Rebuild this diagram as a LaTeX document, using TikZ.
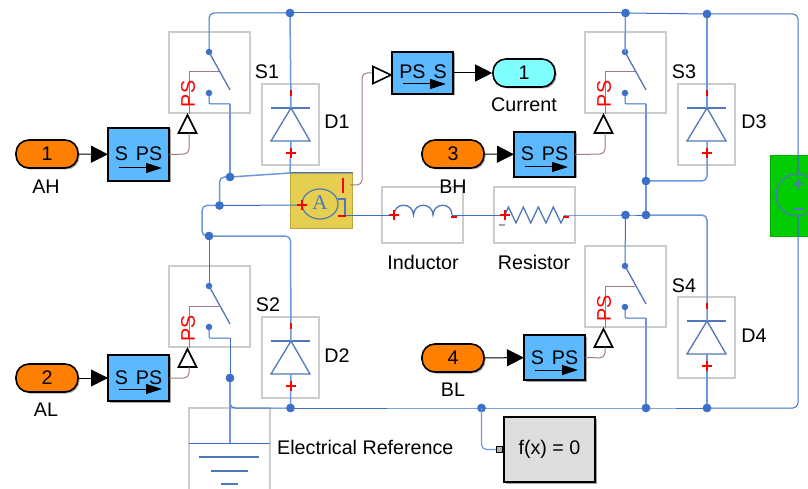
\documentclass[tikz,border=0pt]{standalone}
\usepackage{fontspec}
\setmainfont{Liberation Sans}
\usetikzlibrary{arrows.meta,shadows}
\definecolor{wireblue}{HTML}{3B6FC9}
\definecolor{wirelight}{HTML}{6E97DC}
\definecolor{symblue}{HTML}{4F78B8}
\definecolor{sigbrown}{HTML}{A07A80}
\definecolor{boxgray}{HTML}{CCCCCC}
\definecolor{psblue}{HTML}{5CB8FF}
\definecolor{portorange}{HTML}{FF8000}
\definecolor{portcyan}{HTML}{80FFFF}
\definecolor{ampyellow}{HTML}{E6CF50}
\definecolor{srcgreen}{HTML}{00CC00}
\newcommand{\lab}{\fontsize{19.7}{20}\selectfont}
\tikzset{
  wire/.style={draw=wireblue,line width=1pt,rounded corners=5pt},
  wirel/.style={draw=wirelight,line width=1.5pt,rounded corners=5pt},
  sigline/.style={draw=sigbrown,line width=1pt,rounded corners=5pt},
  symb/.style={draw=symblue,line width=1.3pt},
  graybox/.style={draw=boxgray,line width=1.1pt,fill=white,inner sep=0,outer sep=0,anchor=north west},
  smalldot/.style={circle,fill=wireblue,inner sep=0,minimum size=6.5pt},
  junc/.style={circle,fill=wireblue,inner sep=0,minimum size=8.5pt},
  psblock/.style={draw=black,line width=2pt,fill=psblue,inner sep=0,outer sep=0,anchor=north west,
     drop shadow={shadow xshift=1.5pt,shadow yshift=-1.5pt,opacity=.35,fill=black}},
  port/.style={draw=black,line width=1.6pt,rounded corners=13pt,inner sep=0,minimum width=62pt,minimum height=28pt,
     font=\lab,drop shadow={shadow xshift=1.5pt,shadow yshift=-1.5pt,opacity=.35,fill=black}},
  txt/.style={inner sep=0,font=\lab,text=black},
  redmark/.style={draw=red,line width=2pt},
  redtxt/.style={inner sep=0,text=red,font=\lab,rotate=90},
  feed/.style={draw=black,line width=1pt,-{Triangle[length=17pt,width=17pt]}},
  innerarrow/.style={draw=black,line width=1pt,-{Triangle[length=16pt,width=10pt]}},
  opentri/.style={draw=black,line width=1.6pt,fill=white,line join=miter},
}
\newcommand{\switchblock}[3]{% name, x, y
  \begin{scope}[shift={(#2,#3)}]
    \node[graybox,minimum width=81pt,minimum height=81pt] (#1) at (0,0) {};
    \node[smalldot] (#1t) at (40,20) {};
    \node[smalldot] (#1b) at (40,61) {};
    \coordinate (#1e) at (61,58);
    \coordinate (#1k) at (50,40);
    \coordinate (#1o) at (61,72);
    \draw[symb] (#1t.center) -- (#1e);
    \draw[wire,rounded corners=1pt] (#1b.center) -- (40,72) -- (#1o);
    \coordinate (#1a) at (20,82);
    \draw[sigline,rounded corners=0pt] (#1a) -- (20,40) -- (#1k);
    \node[redtxt] at (19,62) {PS};
    \draw[opentri] (18.5,83) -- (9.5,101) -- (27.5,101) -- cycle;
    \coordinate (#1i) at (20,101);
  \end{scope}}
\newcommand{\diodeblock}[3]{% name, x, y
  \begin{scope}[shift={(#2,#3)}]
    \node[graybox,minimum width=57pt,minimum height=81pt] (#1) at (0,0) {};
    \coordinate (#1k) at (29,24);
    \coordinate (#1a) at (29,57);
    \draw[symb] (9,24) -- (48,24);
    \draw[symb] (#1k) -- (9,57) -- (48,57) -- cycle;
  \end{scope}}
\newcommand{\diodemarks}[2]{%
  \begin{scope}[shift={(#1,#2)}]
    \draw[redmark] (29,6) -- (29,12);
    \draw[redmark,line width=1.5pt] (24,69) -- (34,69) (29,64) -- (29,74);
  \end{scope}}
\begin{document}
\begin{tikzpicture}[x=1pt,y=-1pt]
\useasboundingbox (0,0) rectangle (808,489);
\clip (0,0) rectangle (808,489);

% gray boxes
\switchblock{sa}{169}{32}
\switchblock{sc}{585}{32}
\switchblock{sb}{169}{266}
\switchblock{sd}{585}{246}
\diodeblock{da}{262}{84}
\diodeblock{dc}{678}{84}
\diodeblock{db}{262}{317}
\diodeblock{dd}{678}{297}

% inductor / resistor boxes
\node[graybox,minimum width=81pt,minimum height=56pt] (ind) at (382,187) {};
\node[graybox,minimum width=81pt,minimum height=56pt] (res) at (494,187) {};
% ground box
\node[graybox,minimum width=81pt,minimum height=90pt] (gnd) at (189,408) {};
% source
\node[anchor=north west,fill=srcgreen,draw=srcgreen!85!black,line width=1pt,inner sep=0,minimum width=60pt,minimum height=81pt] (src) at (770,155) {};
% ammeter
\node[anchor=north west,fill=ampyellow,draw=ampyellow!80!black,line width=1pt,inner sep=0,minimum width=62pt,minimum height=55pt] (amp) at (290,173) {};
\draw[wire,rounded corners=0pt] (amp.north west) -- (amp.north east);

% junctions
\node[junc] (j1) at (290,13) {};
\node[junc] (j2) at (625.5,13) {};
\node[junc] (j3) at (707,14) {};
\node[junc] (j4) at (230,177) {};
\node[junc] (j5) at (219.5,205.5) {};
\node[junc] (j6) at (209,236) {};
\node[junc] (j7) at (646,181) {};
\node[junc] (j8) at (625.5,215) {};
\node[junc] (j9) at (646,215) {};
\node[junc] (j10) at (230,378) {};
\node[junc] (j11) at (290.5,408) {};
\node[junc] (j12) at (481.5,408) {};
\node[junc] (j13) at (646,408) {};
\node[junc] (j14) at (707,408) {};
\coordinate (gbar) at (230,443);
\coordinate (inL) at (394,215);
\coordinate (inR) at (452,215);
\coordinate (reL) at (505,215);
\coordinate (reR) at (565,215);
\coordinate (ampL) at (302,205);
\coordinate (ampR) at (345,215);
\coordinate (srcT) at (798,174);
\coordinate (srcB) at (798,216);

% wires
\draw[wire] (sat.center) -- (209,13) -- (j1.center);
\draw[wire,rounded corners=0pt] (j1.center) -- (j2.center);
\draw[wire] (j2.center) -- (j3.center) -- (798,14) -- (srcT);
\draw[wire] (srcB) -- (798,408) -- (j14.center);
\draw[wire,rounded corners=0pt] (j14.center) -- (j13.center) -- (j12.center) -- (j11.center);
\draw[wire] (j11.center) -- (230,408) -- (j10.center);
\draw[wirel,rounded corners=0pt] (j1.center) -- (dak);
\draw[wirel,rounded corners=0pt] (daa) -- (amp.north west);
\draw[wirel,rounded corners=0pt] (sao) -- (j4.center);
\draw[wirel] (j4.center) -- (amp.north west);
\draw[wirel] (j4.center) -- (219.5,177) -- (j5.center);
\draw[wire,rounded corners=0pt] (j5.center) -- (ampL);
\draw[wirel] (j5.center) -- (202,205.5) -- (202,236) -- (j6.center);
\draw[wire,rounded corners=0pt] (j6.center) -- (sbt.center);
\draw[wirel] (j6.center) -- (290.5,236) -- (dbk);
\draw[wirel,rounded corners=0pt] (dba) -- (j11.center);
\draw[wire,rounded corners=0pt] (sbo) -- (j10.center);
\draw[wirel,rounded corners=0pt] (j10.center) -- (gbar);
\draw[wirel,rounded corners=0pt] (j2.center) -- (sct.center);
\draw[wirel,rounded corners=0pt] (j3.center) -- (dck);
\draw[wirel,rounded corners=0pt] (sco) -- (j7.center) -- (j9.center);
\draw[wirel] (j7.center) -- (707,181) -- (dca);
\draw[wire,rounded corners=0pt] (ampR) -- (inL);
\draw[wire,rounded corners=0pt] (inR) -- (reL);
\draw[wire,rounded corners=0pt] (reR) -- (j8.center) -- (j9.center);
\draw[wirel] (j9.center) -- (707,215) -- (ddk);
\draw[wire,rounded corners=0pt] (j8.center) -- (sdt.center);
\draw[wirel,rounded corners=0pt] (dda) -- (j14.center);
\draw[wirel,rounded corners=0pt] (sdo) -- (j13.center);

% junction dots on top of wires
\foreach \px/\py in {290/13,625.5/13,707/14,230/177,219.5/205.5,209/236,646/181,625.5/215,646/215,230/378,290.5/408,481.5/408,646/408,707/408}
  \fill[wireblue] (\px,\py) circle (4.2pt);

% diode polarity marks
\diodemarks{262}{84}
\diodemarks{678}{84}
\diodemarks{262}{317}
\diodemarks{678}{297}

% ground symbol
\draw[wire,rounded corners=0pt] (189,443) -- (270,443);
\draw[symb] (199,457) -- (259,457) (211,471) -- (248,471) (221,484) -- (238,484);

% ammeter symbol
\draw[symb,line width=1.2pt] (320,204) ellipse (18pt and 15pt);
\node[inner sep=0,text=symblue,font=\fontspec{Liberation Serif}\fontsize{21}{21}\selectfont] at (320,203) {A};
\draw[symb,line width=1.2pt] (338,199) -- (345,199) -- (ampR);
\draw[redmark,line width=1.5pt] (297,205) -- (307,205) (302,200) -- (302,210);
\draw[redmark] (343,178) -- (343,193);
\draw[redmark] (338,216) -- (346,216);

% inductor
\draw[symb] (inL) .. controls (394,202) and (413,202) .. (413.5,215)
  .. controls (414,202) and (432.5,202) .. (433,215)
  .. controls (433.5,202) and (452,202) .. (inR);
\draw[redmark,line width=1.5pt] (389,215) -- (399,215) (394,210) -- (394,220);
\draw[redmark] (451,216.5) -- (457,216.5);
% resistor
\draw[symb] (reL) -- (508.3,207) -- (516,223) -- (523.3,207) -- (530.7,223) -- (538.3,207) -- (546,223) -- (553.3,207) -- (561,223) -- (reR);
\draw[redmark,line width=1.5pt] (500,215) -- (510,215) (505,210) -- (505,220);
\draw[draw=gray!70,line width=2pt] (499,224.5) -- (505,224.5);
\draw[redmark] (563,216.5) -- (569,216.5);

% source symbol
\draw[draw=symblue,line width=1.3pt] (797,195) circle (21pt);
\draw[draw=symblue,line width=1.3pt] (793,184) -- (803,184) (798,179) -- (798,189) (793,209) -- (803,209);

% Simulink-PS blocks
\node[port,fill=portorange] (pa) at (47,154) {1};
\node[port,fill=portorange] (pb) at (47,378) {2};
\node[port,fill=portorange] (pc) at (453,154) {3};
\node[port,fill=portorange] (pd) at (453,358) {4};
\node[port,fill=portcyan] (pe) at (524,73) {1};

\node[psblock,minimum width=61pt,minimum height=53pt] (ba) at (108,128) {};
\node[psblock,minimum width=61pt,minimum height=46pt] (bb) at (108,355) {};
\node[psblock,minimum width=61pt,minimum height=45pt] (bc) at (514,132) {};
\node[psblock,minimum width=61pt,minimum height=45pt] (bd) at (524,335) {};
\node[psblock,minimum width=61pt,minimum height=42pt] (be) at (392,52) {};

\foreach \px/\py in {138.5/154,138.5/378,544.5/154,554.5/357.5}
  \node[txt] at (\px,\py) {S\hspace{8pt}PS};
\node[txt] at (423,72) {PS\hspace{8pt}S};

\coordinate (aa1) at (119,168); \coordinate (aa2) at (162,168);
\coordinate (ab1) at (119,389); \coordinate (ab2) at (162,389);
\coordinate (ac1) at (525,167); \coordinate (ac2) at (568,167);
\coordinate (ad1) at (535,370); \coordinate (ad2) at (578,370);
\coordinate (ae1) at (403,84); \coordinate (ae2) at (446,84);
\draw[innerarrow] (aa1) -- (aa2);
\draw[innerarrow] (ab1) -- (ab2);
\draw[innerarrow] (ac1) -- (ac2);
\draw[innerarrow] (ad1) -- (ad2);
\draw[innerarrow] (ae1) -- (ae2);

% signal connectors
\draw[feed] (pa) -- (ba);
\draw[feed] (pb) -- (bb);
\draw[feed] (pc) -- (bc);
\draw[feed] (pd) -- (bd);
\draw[feed] (be.east |- pe.west) -- (pe.west);
\draw[sigline] (ba.east) -- (189,154) -- (sai);
\draw[sigline] (bb.east) -- (189,378) -- (sbi);
\draw[sigline] (bc.east) -- (605,154) -- (sci);
\draw[sigline] (bd.east) -- (605,358) -- (sdi);
\coordinate (amI) at (350,185);
\draw[sigline] (amI) -- (362,185) -- (362,73) -- (373,73);
\draw[opentri] (391,75) -- (373,66.5) -- (373,83.5) -- cycle;

% constraint block
\node[psblock,fill=black!13,minimum width=91pt,minimum height=65pt] (fx) at (504,417) {};
\node[txt] at (fx.center) {f(x) = 0};
\node[draw=black,fill=black!30,line width=1.2pt,inner sep=0,minimum width=6pt,minimum height=6pt] (fp) at (499.5,449.5) {};
\draw[wirel,line width=1.2pt] (j12.center) -- (481.5,449.5) -- (fp.west);

% labels
\node[txt] at (46,187) {AH};
\node[txt] at (46,410) {AL};
\node[txt] at (453,187) {BH};
\node[txt] at (453,390) {BL};
\node[txt] at (524,105) {Current};
\node[txt] at (267,72) {S1};
\node[txt] at (337,122) {D1};
\node[txt] at (268,305) {S2};
\node[txt] at (337,356) {D2};
\node[txt] at (684,72) {S3};
\node[txt] at (754,122) {D3};
\node[txt] at (684,286) {S4};
\node[txt] at (754,336) {D4};
\node[txt] at (423,262) {Inductor};
\node[txt] at (534,262) {Resistor};
\node[txt,anchor=west] at (277,447.5) {Electrical Reference};
\end{tikzpicture}
\end{document}
